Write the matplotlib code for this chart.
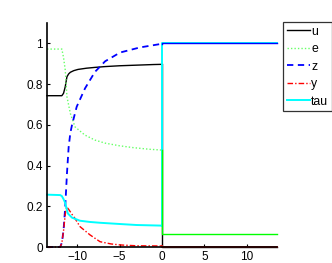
import numpy as np
import matplotlib
matplotlib.use("Agg")
import matplotlib.pyplot as plt

plt.rcParams['font.family'] = ['Liberation Sans', 'DejaVu Sans']
plt.rcParams['axes.unicode_minus'] = True

# time before the switch (t < 0)
t_u = [-13.55, -11.8, -11.6, -11.4, -11.2, -11.0, -10.8, -10.4, -9.9, -8.9, -7.9, -6.7, -5.0, -3.0, -1.0, -0.01]
u = [0.743, 0.743, 0.755, 0.787, 0.836, 0.850, 0.858, 0.866, 0.872, 0.878, 0.882, 0.886, 0.890, 0.893, 0.896, 0.897]

t_e = [-13.55, -11.8, -11.6, -11.4, -11.2, -10.8, -10.25, -9.1, -7.9, -6.7, -5.0, -3.4, -1.5, -0.01]
e = [0.972, 0.972, 0.93, 0.869, 0.738, 0.656, 0.59, 0.55, 0.525, 0.51, 0.497, 0.488, 0.480, 0.476]

t_z = [-13.55, -12.0, -11.8, -11.6, -11.4, -11.2, -11.0, -10.8, -10.6, -10.05, -9.07, -7.9, -6.7, -4.94, -2.6, -0.01]
z = [0.0, 0.0, 0.02, 0.083, 0.198, 0.36, 0.49, 0.56, 0.60, 0.689, 0.779, 0.86, 0.912, 0.955, 0.98, 0.998]

t_y = [-13.55, -12.0, -11.8, -11.6, -11.4, -11.25, -11.0, -10.6, -10.25, -9.66, -8.5, -7.3, -6.0, -4.9, -3.0, -0.01]
y = [0.0, 0.0, 0.02, 0.08, 0.16, 0.198, 0.185, 0.16, 0.14, 0.10, 0.06, 0.026, 0.015, 0.01, 0.006, 0.005]

t_tau = [-13.55, -12.0, -11.8, -11.6, -11.4, -11.1, -10.6, -9.66, -8.5, -7.3, -5.0, -3.0, -0.01]
tau = [0.257, 0.255, 0.25, 0.235, 0.216, 0.165, 0.144, 0.129, 0.123, 0.119, 0.113, 0.108, 0.105]

# values after the switch (t >= 0)
t_after = [0.0, 13.55]
u_after = 0.0
e_after = 0.062
z_after = 1.0
y_after = 0.0
tau_after = 1.0

names = ['u', 'e', 'z', 'y', 'tau']

CYAN = '#00ffff'
fig = plt.figure(figsize=(3.32, 2.63), dpi=100)
ax = fig.add_axes([47/332, 1-247/263, 230/332, 224/263])

lw = 1.0
l_u, = ax.plot(t_u, u, color='k', ls='-', lw=lw, clip_on=False)
l_e, = ax.plot(t_e, e, color=(0.4, 1, 0.4), ls=(0, (1, 1.5)), lw=lw, clip_on=False)
l_z, = ax.plot(t_z, z, color='b', ls=(0, (3.5, 2.5)), lw=1.3, clip_on=False)
l_y, = ax.plot(t_y, y, color='r', ls=(0, (4, 1.5, 1, 1.5)), lw=lw, clip_on=False)
l_tau, = ax.plot(t_tau, tau, color=CYAN, ls='-', lw=1.4, clip_on=False)

def after(tl, vl, v, **kw):
    xs = [t_after[0]] + t_after
    vs = [vl[-1], v, v]
    ax.plot(xs, vs, clip_on=False, **kw)

after(t_u, u, u_after, color='k', lw=lw)
after(t_tau, tau, tau_after, color=CYAN, lw=1.4)
after(t_z, z, z_after, color='b', lw=lw)
after(t_e, e, e_after, color=(0, 1, 0), lw=lw)
after(t_y, y, y_after, color=(0.9, 0.1, 0.1), lw=1.4)

ax.set_xlim(-13.55, 13.55)
ax.set_ylim(0, 1.1)
ax.set_xticks([-10, -5, 0, 5, 10])
ax.set_yticks([0, 0.2, 0.4, 0.6, 0.8, 1])
ax.set_yticklabels(['0', '0.2', '0.4', '0.6', '0.8', '1'])
for s in ['top', 'right']:
    ax.spines[s].set_visible(False)
for s in ['left', 'bottom']:
    ax.spines[s].set_linewidth(1.2)
ax.tick_params(direction='in', length=2.5, width=0.8, labelsize=8.5, pad=3)

leg = fig.legend([l_u, l_e, l_z, l_y, l_tau], names,
                 loc='upper left', bbox_to_anchor=(283/332, 1-22/263),
                 fontsize=8.8, frameon=True, fancybox=False, handlelength=1.9,
                 handletextpad=0.1, labelspacing=0.45, borderpad=0.3,
                 borderaxespad=0, edgecolor='k')
leg.get_frame().set_linewidth(0.9)

fig.savefig('out.png', dpi=100)
